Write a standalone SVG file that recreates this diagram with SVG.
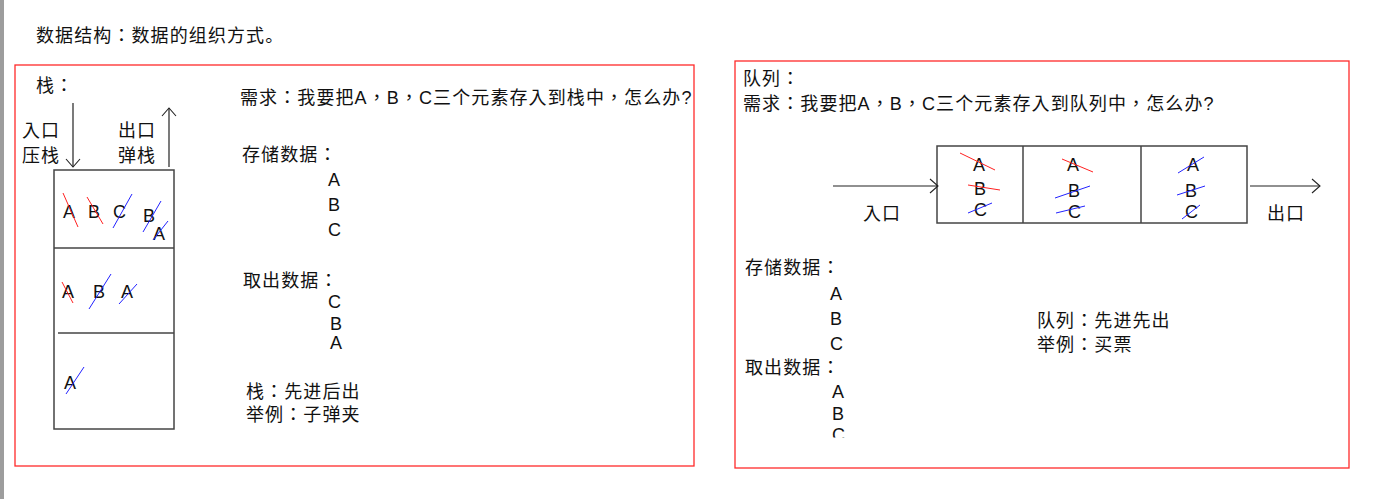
<svg xmlns="http://www.w3.org/2000/svg" width="1377" height="499" viewBox="0 0 1377 499">
<style>
.t{font-family:"Liberation Sans","Noto Sans CJK TC",sans-serif;font-size:18px;fill:#111;letter-spacing:1.1px}
.c{letter-spacing:0}
.sc{font-family:"Liberation Sans","Noto Sans CJK SC",sans-serif}
.frame{fill:none;stroke:#ff2a2a;stroke-width:1.3}
.box{fill:none;stroke:#444;stroke-width:1.5}
.ln{fill:none;stroke:#222;stroke-width:1.2}
.r{stroke:#ff2020;stroke-width:1}
.b{stroke:#2222ff;stroke-width:1}
</style>
<defs>
<marker id="open" viewBox="-10 -10 20 20" refX="0" refY="0" markerWidth="20" markerHeight="20" markerUnits="userSpaceOnUse" orient="auto">
<path d="M-8,-7 L0,0 L-8,7" fill="none" stroke="#222" stroke-width="1.1"/>
</marker>
<clipPath id="clipC"><rect x="820" y="420" width="40" height="17.5"/></clipPath>
</defs>
<rect width="1377" height="499" fill="#ffffff"/>
<rect x="0" y="0" width="4" height="499" fill="#9d9d9d"/>

<g id="title"><text class="t" x="36" y="42">数据结构：数据的组织方式<tspan class="sc">。</tspan></text></g>

<g id="stack-panel">
<rect class="frame" x="15" y="65" width="679" height="401"/>
<text class="t" x="36" y="92">栈：</text>
<text class="t" x="22" y="137">入口</text>
<text class="t" x="22" y="162">压栈</text>
<text class="t" x="118" y="137">出口</text>
<text class="t" x="118" y="162">弹栈</text>
</g>

<g id="stack-box">
<rect class="box" x="54" y="170" width="120" height="259"/>
<line class="box" x1="54" y1="248" x2="174" y2="248"/>
<line class="box" x1="58" y1="333" x2="174" y2="333"/>
<text class="t c" x="63" y="218">A</text>
<text class="t c" x="88" y="218">B</text>
<text class="t c" x="113" y="218">C</text>
<text class="t c" x="143" y="222">B</text>
<text class="t c" x="153" y="240">A</text>
<text class="t c" x="62" y="298">A</text>
<text class="t c" x="93" y="298">B</text>
<text class="t c" x="121" y="298">A</text>
<text class="t c" x="64" y="389">A</text>
<line class="r" x1="63" y1="193" x2="78" y2="227"/>
<line class="r" x1="87" y1="197" x2="103" y2="224"/>
<line class="b" x1="113" y1="228" x2="132" y2="194"/>
<line class="b" x1="143" y1="232" x2="161" y2="201"/>
<line class="b" x1="153" y1="240" x2="168" y2="221"/>
<line class="r" x1="62" y1="282" x2="73" y2="303"/>
<line class="b" x1="89" y1="309" x2="111" y2="274"/>
<line class="b" x1="119" y1="304" x2="137" y2="284"/>
<line class="b" x1="66" y1="394" x2="84" y2="367"/>
</g>

<g id="stack-text">
<text class="t" x="240" y="104">需求：我要把A，B，C三个元素存入到栈中，怎么办?</text>
<text class="t" x="242" y="161">存储数据：</text>
<text class="t c" x="328" y="186">A</text>
<text class="t c" x="328" y="211">B</text>
<text class="t c" x="328" y="236">C</text>
<text class="t" x="243" y="287">取出数据：</text>
<text class="t c" x="328" y="308">C</text>
<text class="t c" x="330" y="330">B</text>
<text class="t c" x="330" y="349">A</text>
<text class="t" x="246" y="398">栈：先进后出</text>
<text class="t" x="246" y="421">举例：子弹夹</text>
</g>

<g id="queue-panel">
<rect class="frame" x="735" y="61" width="614" height="407"/>
<text class="t" x="743" y="85">队列：</text>
<text class="t" x="743" y="110">需求：我要把A，B，C三个元素存入到队列中，怎么办?</text>
<text class="t" x="863" y="220">入口</text>
<text class="t" x="1267" y="220">出口</text>
</g>

<g id="queue-box">
<rect class="box" x="937" y="146" width="310" height="77"/>
<line class="box" x1="1023" y1="146" x2="1023" y2="223"/>
<line class="box" x1="1141" y1="146" x2="1141" y2="223"/>
<text class="t c" x="973" y="171">A</text>
<text class="t c" x="974" y="195">B</text>
<text class="t c" x="974" y="216">C</text>
<text class="t c" x="1067" y="171">A</text>
<text class="t c" x="1068" y="197">B</text>
<text class="t c" x="1068" y="218">C</text>
<text class="t c" x="1187" y="171">A</text>
<text class="t c" x="1185" y="197">B</text>
<text class="t c" x="1185" y="218">C</text>
<line class="r" x1="960" y1="153" x2="995" y2="170"/>
<line class="r" x1="968" y1="185" x2="1000" y2="190"/>
<line class="b" x1="968" y1="213" x2="992" y2="203"/>
<line class="r" x1="1062" y1="159" x2="1093" y2="172"/>
<line class="b" x1="1055" y1="198" x2="1090" y2="186"/>
<line class="b" x1="1056" y1="213" x2="1085" y2="206"/>
<line class="b" x1="1178" y1="173" x2="1204" y2="157"/>
<line class="b" x1="1177" y1="195" x2="1205" y2="186"/>
<line class="b" x1="1182" y1="219" x2="1200" y2="205"/>
</g>

<g id="queue-text">
<text class="t" x="745" y="274">存储数据：</text>
<text class="t c" x="830" y="300">A</text>
<text class="t c" x="830" y="325">B</text>
<text class="t c" x="830" y="350">C</text>
<text class="t" x="745" y="374">取出数据：</text>
<text class="t c" x="832" y="398">A</text>
<text class="t c" x="832" y="420">B</text>
<text class="t c" x="832" y="441" clip-path="url(#clipC)">C</text>
<text class="t" x="1037" y="327">队列：先进先出</text>
<text class="t" x="1037" y="351">举例：买票</text>
</g>

<g id="connectors">
<line class="ln" x1="73" y1="103" x2="73" y2="167" marker-end="url(#open)"/>
<line class="ln" x1="169" y1="167" x2="169" y2="108" marker-end="url(#open)"/>
<line class="ln" x1="833" y1="186" x2="938" y2="186" marker-end="url(#open)"/>
<line class="ln" x1="1250" y1="186" x2="1320" y2="186" marker-end="url(#open)"/>
</g>
</svg>
